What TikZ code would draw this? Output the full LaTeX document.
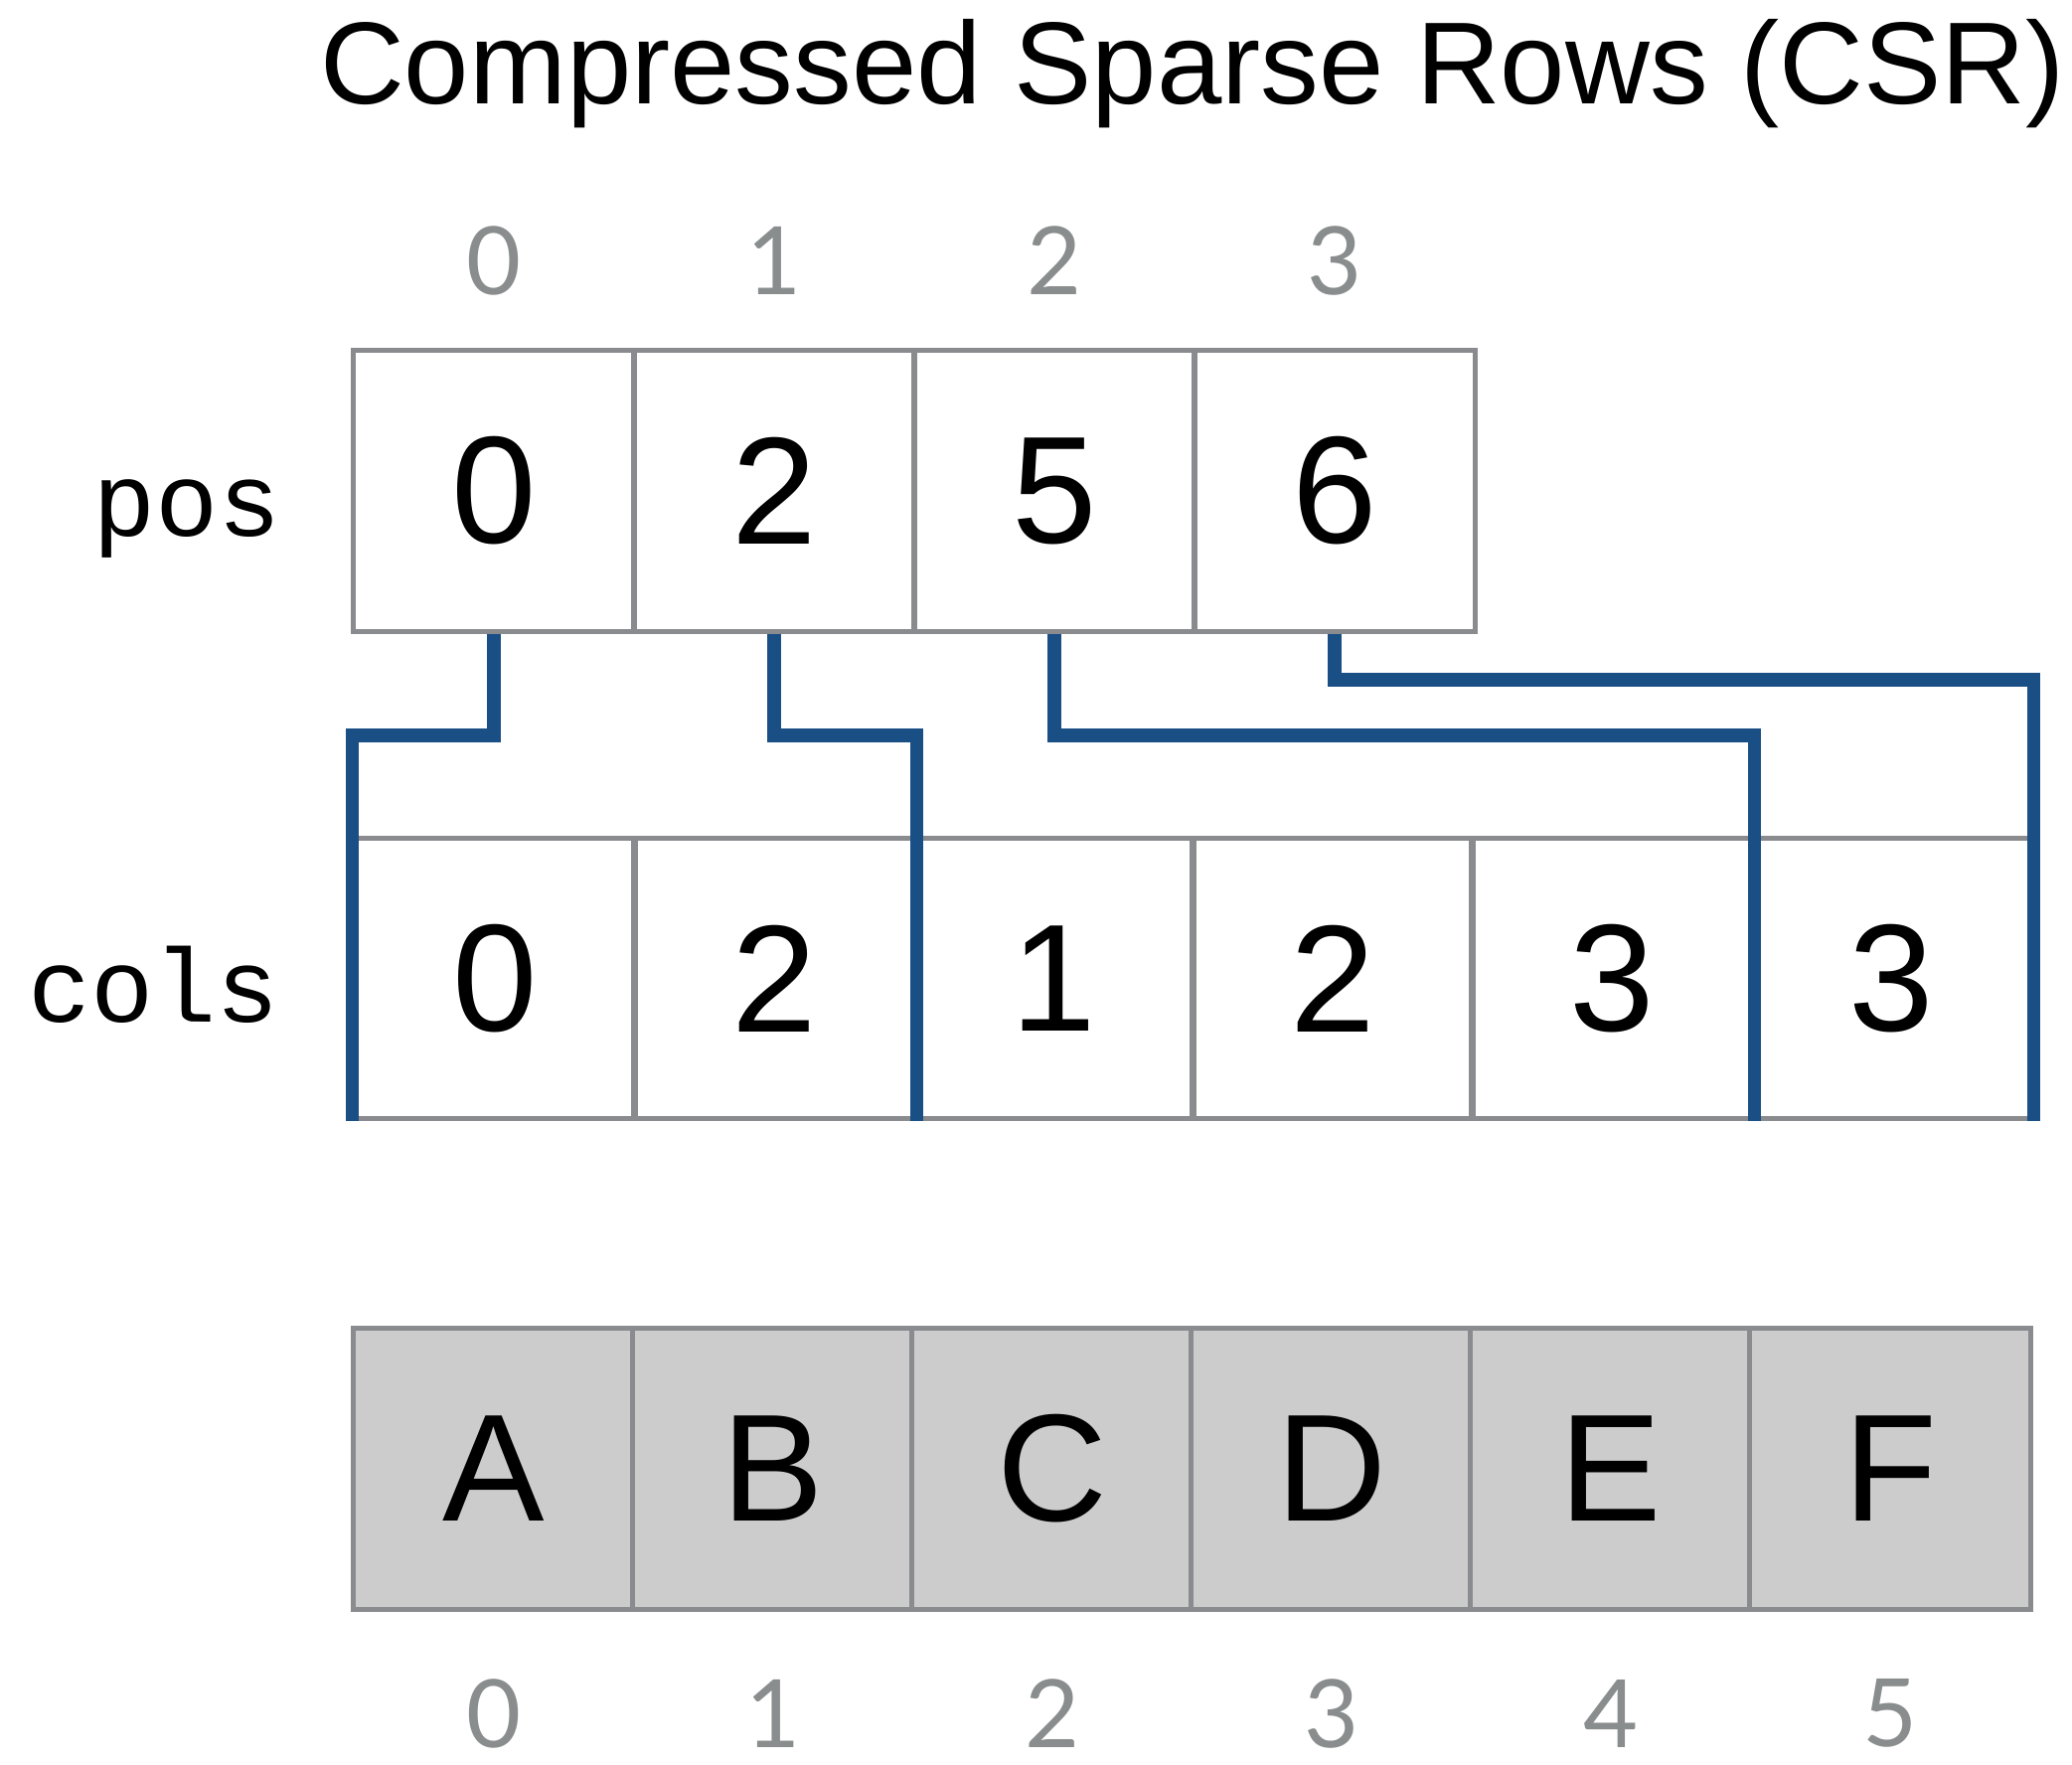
\documentclass[tikz,border=0pt]{standalone}
\usepackage{fontspec}
\setmainfont{Liberation Sans}
\newfontfamily\labfont{Liberation Mono}
\newfontfamily\idxfont{Lato}
\definecolor{csrblue}{HTML}{1A4F86}
\definecolor{cellgrey}{HTML}{898B8F}
\definecolor{valfill}{HTML}{CCCCCC}
\definecolor{idxgrey}{HTML}{8A8D8D}
\tikzset{
  cell/.style={draw=cellgrey, line width=1.4pt, rectangle, inner sep=0pt,
    minimum width=2.82cm, minimum height=2.82cm,
    font=\fontsize{43.7}{50}\selectfont},
  valcell/.style={cell, fill=valfill},
  idx/.style={inner sep=0pt, text=idxgrey, font=\idxfont\fontsize{27}{31}\selectfont},
  arrlabel/.style={inner sep=0pt, anchor=base east, font=\labfont\fontsize{30}{34}\selectfont},
  conn/.style={draw=csrblue, line width=3.9pt, line join=miter}
}
\begin{document}
\begin{tikzpicture}[x=0.01cm,y=-0.01cm]
\useasboundingbox (0,0) rectangle (2085,1776);
% title
\node[inner sep=0pt, anchor=base, font=\fontsize{33.4}{38}\selectfont] (title) at (1200,105) {Compressed Sparse Rows (CSR)};
% pos indices
\foreach \i in {0,...,3} {
  \node[idx] (pi\i) at ({497+282*\i},262) {\i};
}
% pos array
\foreach \v [count=\i from 0] in {0,2,5,6} {
  \node[cell] (p\i) at ({497+282*\i},494) {\v};
}
\node[arrlabel] (poslab) at (284,539) {pos};
% cols array
\foreach \v [count=\i from 0] in {0,2,1,2,3,3} {
  \node[cell] (c\i) at ({498+281*\i},984.5) {\v};
}
\node[arrlabel] (colslab) at (282,1028) {cols};
% connector levels
\coordinate (L1) at (0,740);
\coordinate (L2) at (0,684);
\draw[conn] (p0.south) |- (c0.north west |- L1) -- (c0.south west);
\draw[conn] (p1.south) |- (c1.north east |- L1) -- (c1.south east);
\draw[conn] (p2.south) |- (c4.north east |- L1) -- (c4.south east);
\draw[conn] (p3.south) |- (c5.north east |- L2) -- (c5.south east);
% values array
\foreach \v [count=\i from 0] in {A,B,C,D,E,F} {
  \node[valcell] (v\i) at ({497+281*\i},1478) {\v};
}
% value indices
\foreach \i in {0,...,5} {
  \node[idx] (vi\i) at ({497+281*\i},1724) {\i};
}
\end{tikzpicture}
\end{document}
